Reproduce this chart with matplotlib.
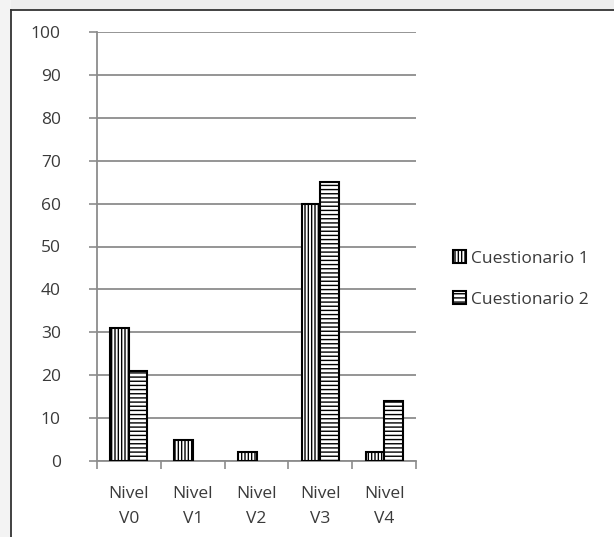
import numpy as np
import matplotlib
matplotlib.use('Agg')
import matplotlib.pyplot as plt
from matplotlib.patches import Rectangle

#--------------------
niveles = ['Nivel\nV0', 'Nivel\nV1', 'Nivel\nV2', 'Nivel\nV3', 'Nivel\nV4']
cuest1 = [31, 5, 2, 60, 2]
cuest2 = [21, 0, 0, 65, 14]
yticks = [0, 10, 20, 30, 40, 50, 60, 70, 80, 90, 100]

plt.rcParams['font.family'] = ['Open Sans', 'DejaVu Sans']
plt.rcParams['hatch.linewidth'] = 1.0
txt = '#3a3a3a'
fs = 12.5

W, H = 614, 537
fig = plt.figure(figsize=(W/100, H/100), dpi=100)
fig.patch.set_facecolor('white')
fig.patch.set_edgecolor('none')
fig.patch.set_linewidth(0)
# grey margin strips on top and left, dark border along the chart area
fig.patches.append(Rectangle((0, 1 - 10/H), 1, 10/H, transform=fig.transFigure,
                             facecolor='#eeeeee', edgecolor='none', lw=0, zorder=-2))
fig.patches.append(Rectangle((0, 0), 11/W, 1, transform=fig.transFigure,
                             facecolor='#f3f3f3', edgecolor='none', lw=0, zorder=-2))
fig.lines.append(plt.Line2D([11/W, 11/W], [0, 1 - 10/H], transform=fig.transFigure,
                            color='#333333', lw=1.3, zorder=-1))
fig.lines.append(plt.Line2D([11/W, 1], [1 - 10/H, 1 - 10/H], transform=fig.transFigure,
                            color='#333333', lw=1.3, zorder=-1))

ax = fig.add_axes([97/W, 1 - 461/H, (416 - 97)/W, (461 - 32)/H])
ax.set_facecolor('none')

x = np.arange(len(niveles))
w = 0.29
b1 = ax.bar(x - w/2, cuest1, w, facecolor='white', edgecolor='black', lw=1.5,
            hatch='|||||', label='Cuestionario 1', zorder=3)
b2 = ax.bar(x + w/2, cuest2, w, facecolor='white', edgecolor='black', lw=1.5,
            hatch='----', label='Cuestionario 2', zorder=3)
# empty bars are not drawn
for r in list(b1) + list(b2):
    if r.get_height() == 0:
        r.set_visible(False)

ax.set_xlim(-0.5, len(niveles) - 0.5)
ax.set_ylim(0, 100)
ax.set_yticks(yticks)
ax.set_yticklabels([str(v) for v in yticks], color=txt, fontsize=fs)
ax.yaxis.grid(True, color='#8c8c8c', lw=1.3, zorder=0)
ax.set_xticks(np.arange(-0.5, len(niveles), 1.0))
ax.set_xticklabels([])
ax.set_xticks(x, minor=True)
ax.set_xticklabels(niveles, minor=True, color=txt, fontsize=fs, linespacing=1.75)
ax.tick_params(axis='x', which='minor', length=0, pad=18)
ax.tick_params(axis='x', which='major', length=6, width=1.2, color='#8c8c8c', direction='out')
ax.tick_params(axis='y', length=6, width=1.2, color='#8c8c8c', direction='out', pad=20)
for s in ['top', 'right']:
    ax.spines[s].set_visible(False)
for s in ['left', 'bottom']:
    ax.spines[s].set_color('#8c8c8c')
    ax.spines[s].set_linewidth(1.3)

fig.legend(handles=[b1, b2], loc='center left', bbox_to_anchor=(437/W, 1 - 279/H),
           frameon=False, handlelength=0.75, handleheight=0.75, handletextpad=0.3,
           labelspacing=1.4, fontsize=fs, labelcolor=txt)

fig.savefig('out.png', dpi=100, facecolor='white', edgecolor='none')
